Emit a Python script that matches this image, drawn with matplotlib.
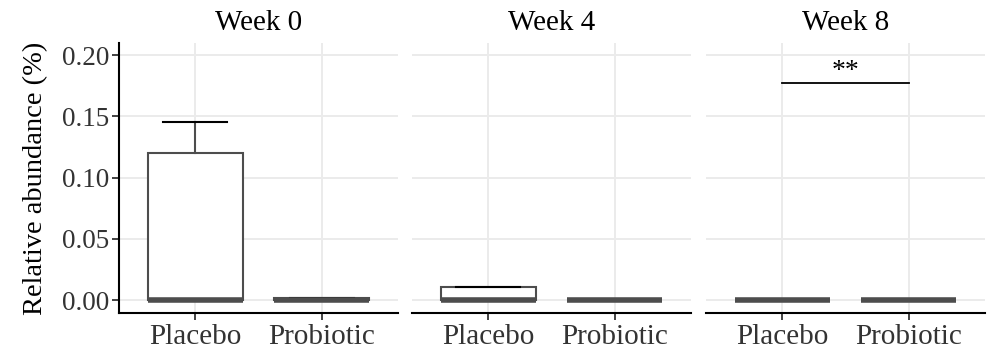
import matplotlib
matplotlib.use("Agg")
import matplotlib.pyplot as plt

plt.rcParams["font.family"] = ["Liberation Serif", "DejaVu Serif"]

# Data: box statistics (relative abundance, %)
weeks = ["Week 0", "Week 4", "Week 8"]
groups = ["Placebo", "Probiotic"]
q1 = [[0.0, 0.0], [0.0, 0.0], [0.0, 0.0]]
med = [[0.0, 0.0], [0.0, 0.0], [0.0, 0.0]]
q3 = [[0.120, 0.0018], [0.0105, 0.0], [0.0, 0.0]]
whislo = [[0.0, 0.0], [0.0, 0.0], [0.0, 0.0]]
whishi = [[0.145, 0.0018], [0.0110, 0.0], [0.0, 0.0]]
yticks = [0.00, 0.05, 0.10, 0.15, 0.20]
sig_week = "Week 8"
sig_y = 0.177
sig_label = "**"

box_col = "#4D4D4D"
grid_col = "#EBEBEB"

fig = plt.figure(figsize=(9.93, 3.52), dpi=100)

W, H = 993, 352
panel_left = [119, 412, 706]
panel_w = 279
top_px, bot_px = 43, 313

for i, week in enumerate(weeks):
    ax = fig.add_axes([
        panel_left[i] / W,
        1 - bot_px / H,
        panel_w / W,
        (bot_px - top_px) / H,
    ])

    stats = []
    for j, g in enumerate(groups):
        stats.append(dict(
            label=g, med=med[i][j], q1=q1[i][j], q3=q3[i][j],
            whislo=whislo[i][j], whishi=whishi[i][j], fliers=[],
        ))

    ax.bxp(
        stats,
        positions=[1, 2],
        widths=0.75,
        capwidths=0.5,
        showfliers=False,
        patch_artist=True,
        boxprops=dict(facecolor="white", edgecolor=box_col, linewidth=1.5),
        medianprops=dict(color=box_col, linewidth=4, solid_capstyle="butt"),
        whiskerprops=dict(color=box_col, linewidth=1.5),
        capprops=dict(color="black", linewidth=1.5),
        zorder=3,
    )

    # Significance bar
    if week == sig_week:
        ax.plot([1, 2], [sig_y, sig_y], color="black", linewidth=1.3, zorder=4)
        ax.text(1.5, sig_y - 0.001, sig_label, ha="center", va="bottom",
                fontsize=20, zorder=4)

    ax.set_xlim(0.4, 2.6)
    ax.set_ylim(-0.0106, 0.2098)
    ax.set_xticks([1, 2])
    ax.set_xticklabels(groups, fontsize=21)
    ax.set_yticks(yticks)

    # Grid
    ax.grid(True, color=grid_col, linewidth=1.4)
    ax.set_axisbelow(True)

    for side in ["top", "right"]:
        ax.spines[side].set_visible(False)
    ax.spines["bottom"].set_linewidth(1.5)
    ax.spines["bottom"].set_color("black")

    ax.tick_params(axis="x", length=5, width=1.3, color="#333333",
                   pad=3, labelcolor="#333333")

    if i == 0:
        ax.set_yticklabels([f"{t:.2f}" for t in yticks], fontsize=19.5,
                           color="#333333")
        ax.tick_params(axis="y", length=5, width=1.3, color="#333333", pad=2)
        ax.spines["left"].set_linewidth(1.5)
        ax.spines["left"].set_color("black")
        ax.set_ylabel("Relative abundance (%)", fontsize=20.5, labelpad=10)
    else:
        ax.spines["left"].set_visible(False)
        ax.tick_params(axis="y", length=0, labelleft=False)

    ax.set_title(week, fontsize=21, pad=9)

fig.savefig("out.png", dpi=100)
plt.close(fig)
